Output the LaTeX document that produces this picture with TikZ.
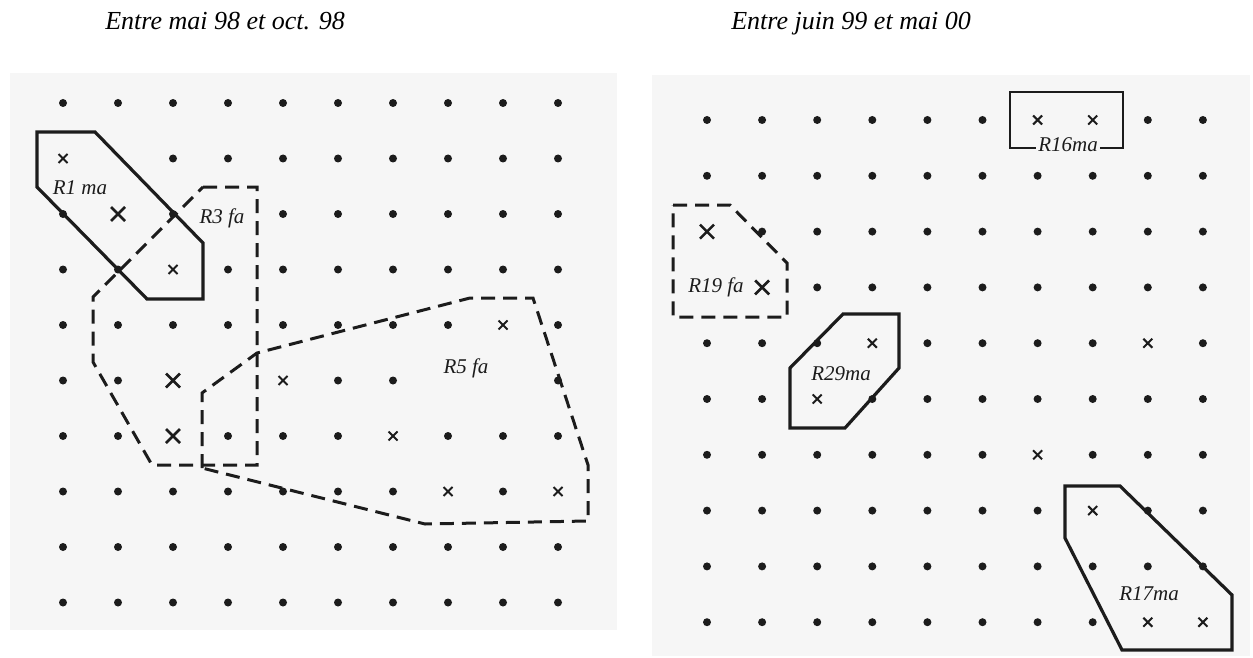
\documentclass[tikz,border=0pt]{standalone}
\usepackage{fontspec}
\setmainfont{Liberation Serif}
\usepackage{xcolor}
\usepackage{tikz}
\definecolor{scanbg}{RGB}{246, 246, 246}
\definecolor{inkcolor}{RGB}{28, 28, 28}

\tikzset{
  zonesolid/.style={draw=inkcolor, line width=3.2pt, line join=miter},
  zonedashed/.style={draw=inkcolor, line width=3pt, dash pattern=on 14pt off 8pt},
  zonelabel/.style={font=\fontsize{21}{24}\selectfont\itshape, text=inkcolor, anchor=base, inner sep=2pt},
  titlelabel/.style={font=\fontsize{26}{30}\selectfont\itshape, anchor=base},
  gridpoint/.style={fill=inkcolor},
  erase/.style={fill=scanbg},
  smallx/.pic={\draw[inkcolor, line width=2pt] (-4.5,-4.5) -- (4.5,4.5) (-4.5,4.5) -- (4.5,-4.5);},
  bigx/.pic={\draw[inkcolor, line width=2.6pt] (-7,-7) -- (7,7) (-7,7) -- (7,-7);},
}

\begin{document}
\begin{tikzpicture}[x=1pt, y=-1pt]
    \useasboundingbox (0,0) rectangle (1253,658);
    % scanned sheets
    \fill[scanbg] (10,73) rectangle (617,630);
    \fill[scanbg] (652,75) rectangle (1250,656);

    \node[titlelabel] (titleleft) at (225,30) {Entre mai 98 et oct. 98};
    \node[titlelabel] (titleright) at (851,30) {Entre juin 99 et mai 00};

    % sample points, 10 x 10 on each sheet
    \foreach \c in {0,...,9}
        \foreach \r in {0,...,9} {
            \fill[gridpoint] (63+55*\c, 103+55.5*\r) circle (4);
            \fill[gridpoint] (707+55.1*\c, 120+55.8*\r) circle (4);
        }

    % left sheet: crosses and hidden points
    \foreach \c/\r in {1/1, 3/2, 3/5, 7/5, 8/5, 0/1, 1/2, 2/3, 2/5, 2/6, 4/5, 8/4, 6/6, 7/7, 9/7}
        \fill[erase] (63+55*\c, 103+55.5*\r) circle (6);
    \foreach \c/\r in {0/1, 2/3, 4/5, 8/4, 6/6, 7/7, 9/7}
        \pic at (63+55*\c, 103+55.5*\r) {smallx};
    \foreach \c/\r in {1/2, 2/5, 2/6}
        \pic at (63+55*\c, 103+55.5*\r) {bigx};

    % right sheet: crosses and hidden points
    \foreach \c/\r in {0/3, 6/0, 7/0, 0/2, 1/3, 3/4, 2/5, 8/4, 6/6, 7/7, 8/9, 9/9}
        \fill[erase] (707+55.1*\c, 120+55.8*\r) circle (6);
    \foreach \c/\r in {6/0, 7/0, 3/4, 2/5, 8/4, 6/6, 7/7, 8/9, 9/9}
        \pic at (707+55.1*\c, 120+55.8*\r) {smallx};
    \foreach \c/\r in {0/2, 1/3}
        \pic at (707+55.1*\c, 120+55.8*\r) {bigx};

    % zones, left sheet
    \draw[zonesolid] (37,132) -- (95,132) -- (203,243) -- (203,299) -- (147,299) -- (37,187) -- cycle;
    \draw[zonedashed] (203,187) -- (257,187) -- (257,465) -- (152,465) -- (93,362) -- (93,297) -- cycle;
    \draw[zonedashed] (202,468) -- (202,393) -- (257,353) -- (470,298) -- (533,298) -- (588,465)
        -- (588,521) -- (425,524) -- cycle;
    \node[zonelabel] (r1) at (80,194) {R1 ma};
    \node[zonelabel] (r3) at (222,223) {R3 fa};
    \node[zonelabel] (r5) at (466,373) {R5 fa};

    % zones, right sheet
    \node[zonelabel] (r16) at (1068,152) {R16ma};
    \coordinate (r16line) at (1068,148);
    \draw[inkcolor, line width=1.6pt] (r16.east |- r16line) -| (1123,92) -| (1010,148) -- (r16.west |- r16line);
    \draw[zonedashed] (673,205) -- (730,205) -- (787,263) -- (787,317) -- (673,317) -- cycle;
    \draw[zonesolid] (843,314) -- (899,314) -- (899,368) -- (845,428) -- (790,428) -- (790,368) -- cycle;
    \draw[zonesolid] (1065,486) -- (1120,486) -- (1232,595) -- (1232,650) -- (1122,650) -- (1065,538) -- cycle;
    \node[zonelabel] (r19) at (716,292) {R19 fa};
    \node[zonelabel] (r29) at (841,380) {R29ma};
    \node[zonelabel] (r17) at (1149,600) {R17ma};
\end{tikzpicture}
\end{document}
